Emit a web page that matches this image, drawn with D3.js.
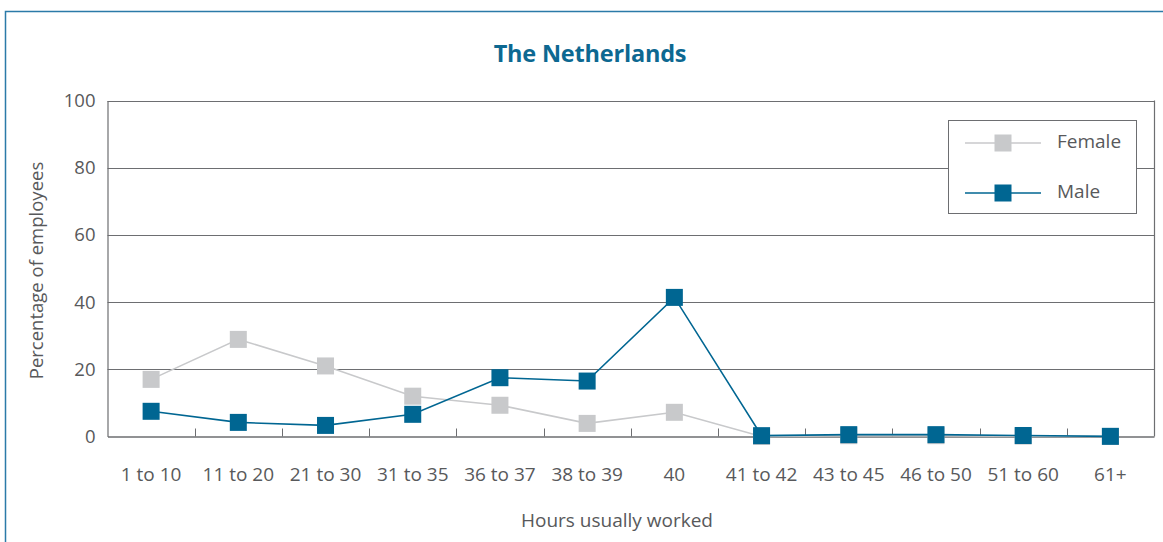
<!DOCTYPE html>
<html>
<head>
<meta charset="utf-8">
<script src="https://cdn.jsdelivr.net/npm/d3@7"></script>
<style>
  html, body { margin: 0; padding: 0; background: #fff; }
  svg { display: block; font-family: "Open Sans", sans-serif; }
</style>
</head>
<body>
<svg id="chart" width="1163" height="542"></svg>
<script>
const categories = ["1 to 10", "11 to 20", "21 to 30", "31 to 35", "36 to 37", "38 to 39", "40", "41 to 42", "43 to 45", "46 to 50", "51 to 60", "61+"];
const female = [17.0, 28.9, 21.0, 12.0, 9.3, 3.9, 7.2, 0.0, 0.25, 0.25, 0.1, 0.0];
const male = [7.5, 4.2, 3.3, 6.6, 17.5, 16.5, 41.4, 0.25, 0.55, 0.55, 0.3, 0.05];
const yTicks = [0, 20, 40, 60, 80, 100];
const seriesNames = ["Female", "Male"];
const seriesColors = ["#c8c9cb", "#006692"];
const title = "The Netherlands";
const yTitle = "Percentage of employees";
const xTitle = "Hours usually worked";

(function () {
const svg = d3.select("#chart");
const textColor = "#58595b";
const gridColor = "#6d6e71";

// outer frame
svg.append("rect").attr("x", 5.5).attr("y", 11.5).attr("width", 1200).attr("height", 600)
  .attr("fill", "none").attr("stroke", "#2b7aa8").attr("stroke-width", 1.5);

const pl = 107.5, pr = 1154, pt = 100.5, pb = 436.5;
const x = d3.scaleBand().domain(categories).range([pl, pr]);
const y = d3.scaleLinear().domain([0, 100]).range([pb, pt]);

// title
svg.append("text").attr("x", 590).attr("y", 62).attr("text-anchor", "middle")
  .attr("font-size", 23.5).attr("font-weight", "bold").attr("fill", "#0d6891")
  .attr("letter-spacing", -0.2)
  .text(title);

// gridlines
svg.append("g").selectAll("line").data(yTicks.filter(d => d > 0)).join("line")
  .attr("x1", pl).attr("x2", pr)
  .attr("y1", d => Math.round(y(d)) + 0.5).attr("y2", d => Math.round(y(d)) + 0.5)
  .attr("stroke", gridColor).attr("stroke-width", 1);

// right border of plot
svg.append("line").attr("x1", pr + 0.5).attr("x2", pr + 0.5).attr("y1", pt).attr("y2", pb)
  .attr("stroke", gridColor).attr("stroke-width", 1.2);

// y axis
const yAxis = svg.append("g").attr("transform", `translate(${pl},0)`)
  .call(d3.axisLeft(y).tickValues(yTicks).tickSize(0).tickPadding(12));
yAxis.select(".domain").attr("stroke", gridColor).attr("stroke-width", 1.2);
yAxis.selectAll("text").attr("font-size", 18.5).attr("fill", textColor).attr("font-family", "Open Sans, sans-serif");

// x axis with ticks between categories pointing up
const xAxisG = svg.append("g").attr("transform", `translate(0,${pb})`)
  .call(d3.axisBottom(x).tickSize(0).tickPadding(31));
xAxisG.select(".domain").attr("stroke", gridColor).attr("stroke-width", 1.5);
xAxisG.selectAll("text").attr("font-size", 19).attr("fill", textColor).attr("font-family", "Open Sans, sans-serif");
xAxisG.selectAll("line").remove();
svg.append("g").selectAll("line").data(categories.slice(1)).join("line")
  .attr("x1", d => Math.round(x(d)) + 0.5).attr("x2", d => Math.round(x(d)) + 0.5)
  .attr("y1", pb - 8).attr("y2", pb)
  .attr("stroke", gridColor).attr("stroke-width", 1);

// axis titles
svg.append("text").attr("transform", `translate(43,${(pt + pb) / 2 + 2}) rotate(-90)`)
  .attr("text-anchor", "middle").attr("font-size", 18.5).attr("fill", textColor)
  .text(yTitle);
svg.append("text").attr("x", 617).attr("y", 527).attr("text-anchor", "middle")
  .attr("font-size", 19).attr("fill", textColor).text(xTitle);

// series
const data = [female, male];
const ms = 17;
data.forEach((vals, i) => {
  const line = d3.line().x((d, j) => x(categories[j]) + x.bandwidth() / 2).y(d => y(d));
  const g = svg.append("g");
  g.append("path").datum(vals).attr("d", line).attr("fill", "none")
    .attr("stroke", seriesColors[i]).attr("stroke-width", 1.6);
  g.selectAll("rect").data(vals).join("rect")
    .attr("x", (d, j) => x(categories[j]) + x.bandwidth() / 2 - ms / 2)
    .attr("y", d => y(d) - ms / 2)
    .attr("width", ms).attr("height", ms).attr("fill", seriesColors[i]);
});

// legend
const lg = svg.append("g");
lg.append("rect").attr("x", 948.5).attr("y", 120.5).attr("width", 188).attr("height", 93)
  .attr("fill", "#fff").attr("stroke", gridColor).attr("stroke-width", 1);
seriesNames.forEach((name, i) => {
  const cy = 143 + i * 50;
  lg.append("line").attr("x1", 965).attr("x2", 1041).attr("y1", cy).attr("y2", cy)
    .attr("stroke", seriesColors[i]).attr("stroke-width", 1.6);
  lg.append("rect").attr("x", 1003 - ms / 2).attr("y", cy - ms / 2).attr("width", ms).attr("height", ms)
    .attr("fill", seriesColors[i]);
  lg.append("text").attr("x", 1057).attr("y", cy + 5).attr("font-size", 19).attr("fill", textColor)
    .text(name);
});
})();
</script>
</body>
</html>
